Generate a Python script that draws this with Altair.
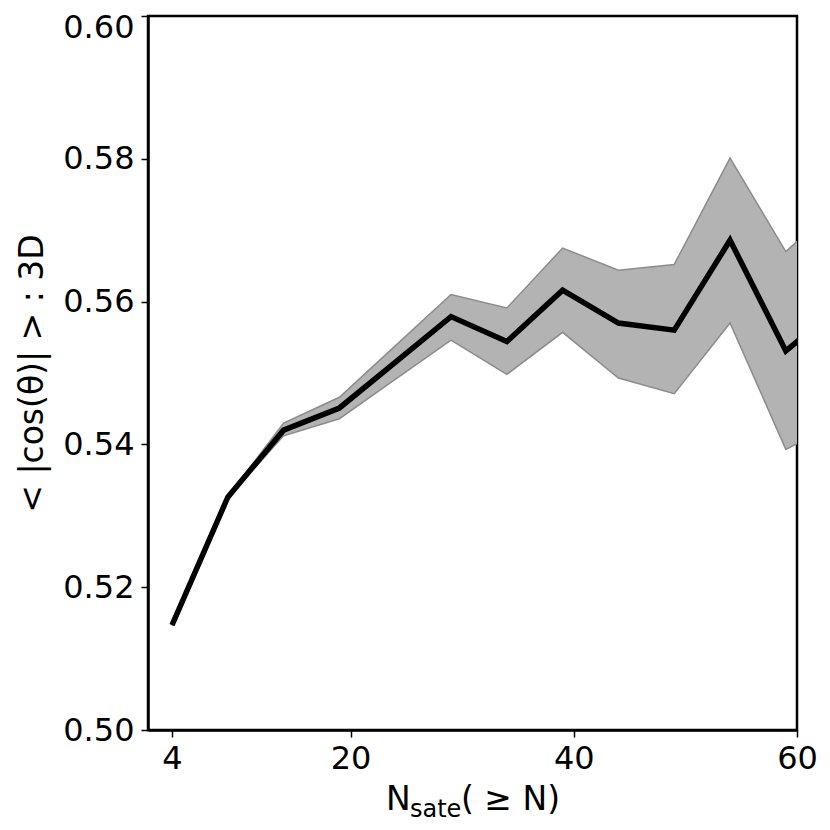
import altair as alt
import pandas as pd

# Data
n_sate = [4, 9, 14, 19, 24, 29, 34, 39, 44, 49, 54, 59, 64]
mean_cos = [0.5147, 0.5326, 0.5420, 0.5451, 0.5515, 0.5579, 0.5544, 0.5616, 0.5570, 0.5560, 0.5686, 0.5531, 0.5596]
upper_cos = [0.5148, 0.5327, 0.5430, 0.5466, 0.5538, 0.5610, 0.5591, 0.5675, 0.5644, 0.5652, 0.5801, 0.5670, 0.5740]
lower_cos = [0.5146, 0.5325, 0.5412, 0.5436, 0.5491, 0.5546, 0.5498, 0.5557, 0.5493, 0.5471, 0.5570, 0.5393, 0.5433]

x_ticks = [4, 20, 40, 60]
y_ticks = [0.50, 0.52, 0.54, 0.56, 0.58, 0.60]
x_domain = [1.85, 60]
y_domain = [0.50, 0.60]

y_title = "< |cos(θ)| > : 3D"
x_title_parts = ["N", "sate", "( ≥ N)"]

FONT = "DejaVu Sans"
W, H = 649, 714

df = pd.DataFrame({"n": n_sate, "mean": mean_cos, "hi": upper_cos, "lo": lower_cos})

xscale = alt.Scale(domain=x_domain, nice=False, zero=False)
yscale = alt.Scale(domain=y_domain, nice=False, zero=False)

xaxis = alt.Axis(values=x_ticks, format="d", grid=False, title=None,
                 domainColor="black", domainWidth=2.5,
                 tickColor="black", tickWidth=1.5, tickSize=7,
                 labelFont=FONT, labelFontSize=32, labelColor="black",
                 labelPadding=6, labelFlush=False, labelOverlap=False)
yaxis = alt.Axis(values=y_ticks, format=".2f", grid=False, title=y_title,
                 domainColor="black", domainWidth=2.5,
                 tickColor="black", tickWidth=1.5, tickSize=7,
                 labelFont=FONT, labelFontSize=32, labelColor="black",
                 labelPadding=7, labelOverlap=False,
                 labelOffset=alt.condition("datum.value >= 0.599", alt.value(11), alt.value(0)),
                 titleFont=FONT, titleFontSize=33, titleFontWeight="normal",
                 titleColor="black", titleAngle=-90, titleAlign="center",
                 titleBaseline="middle", titleX=-116, titleY=H / 2)

base = alt.Chart(df)

band = base.mark_area(color="#b3b3b3", opacity=1, clip=True).encode(
    x=alt.X("n:Q", scale=xscale, axis=xaxis),
    y=alt.Y("hi:Q", scale=yscale, axis=yaxis),
    y2="lo:Q",
)
hi_line = base.mark_line(color="#8c8c8c", strokeWidth=1.5, clip=True).encode(
    x=alt.X("n:Q", scale=xscale), y=alt.Y("hi:Q", scale=yscale))
lo_line = base.mark_line(color="#8c8c8c", strokeWidth=1.5, clip=True).encode(
    x=alt.X("n:Q", scale=xscale), y=alt.Y("lo:Q", scale=yscale))
main_line = base.mark_line(color="black", strokeWidth=5.5, clip=True).encode(
    x=alt.X("n:Q", scale=xscale), y=alt.Y("mean:Q", scale=yscale))

lab = pd.DataFrame({"t": [0]})
t_main = alt.Chart(lab).mark_text(font=FONT, fontSize=33, align="left", baseline="alphabetic", color="black").encode(
    x=alt.value(238), y=alt.value(794), text=alt.value(x_title_parts[0]))
t_sub = alt.Chart(lab).mark_text(font=FONT, fontSize=24, align="left", baseline="alphabetic", color="black").encode(
    x=alt.value(262), y=alt.value(801), text=alt.value(x_title_parts[1]))
t_rest = alt.Chart(lab).mark_text(font=FONT, fontSize=33, align="left", baseline="alphabetic", color="black").encode(
    x=alt.value(313), y=alt.value(794), text=alt.value(x_title_parts[2]))

chart = alt.layer(band, hi_line, lo_line, main_line, t_main, t_sub, t_rest).properties(
    width=W, height=H,
    autosize=alt.AutoSizeParams(type="none"),
    padding={"left": 140, "top": 8, "right": 25, "bottom": 92},
    background="white",
).configure_view(stroke="black", strokeWidth=2.5)

chart.save("out.html", embed_options={"renderer": "svg", "actions": False})
